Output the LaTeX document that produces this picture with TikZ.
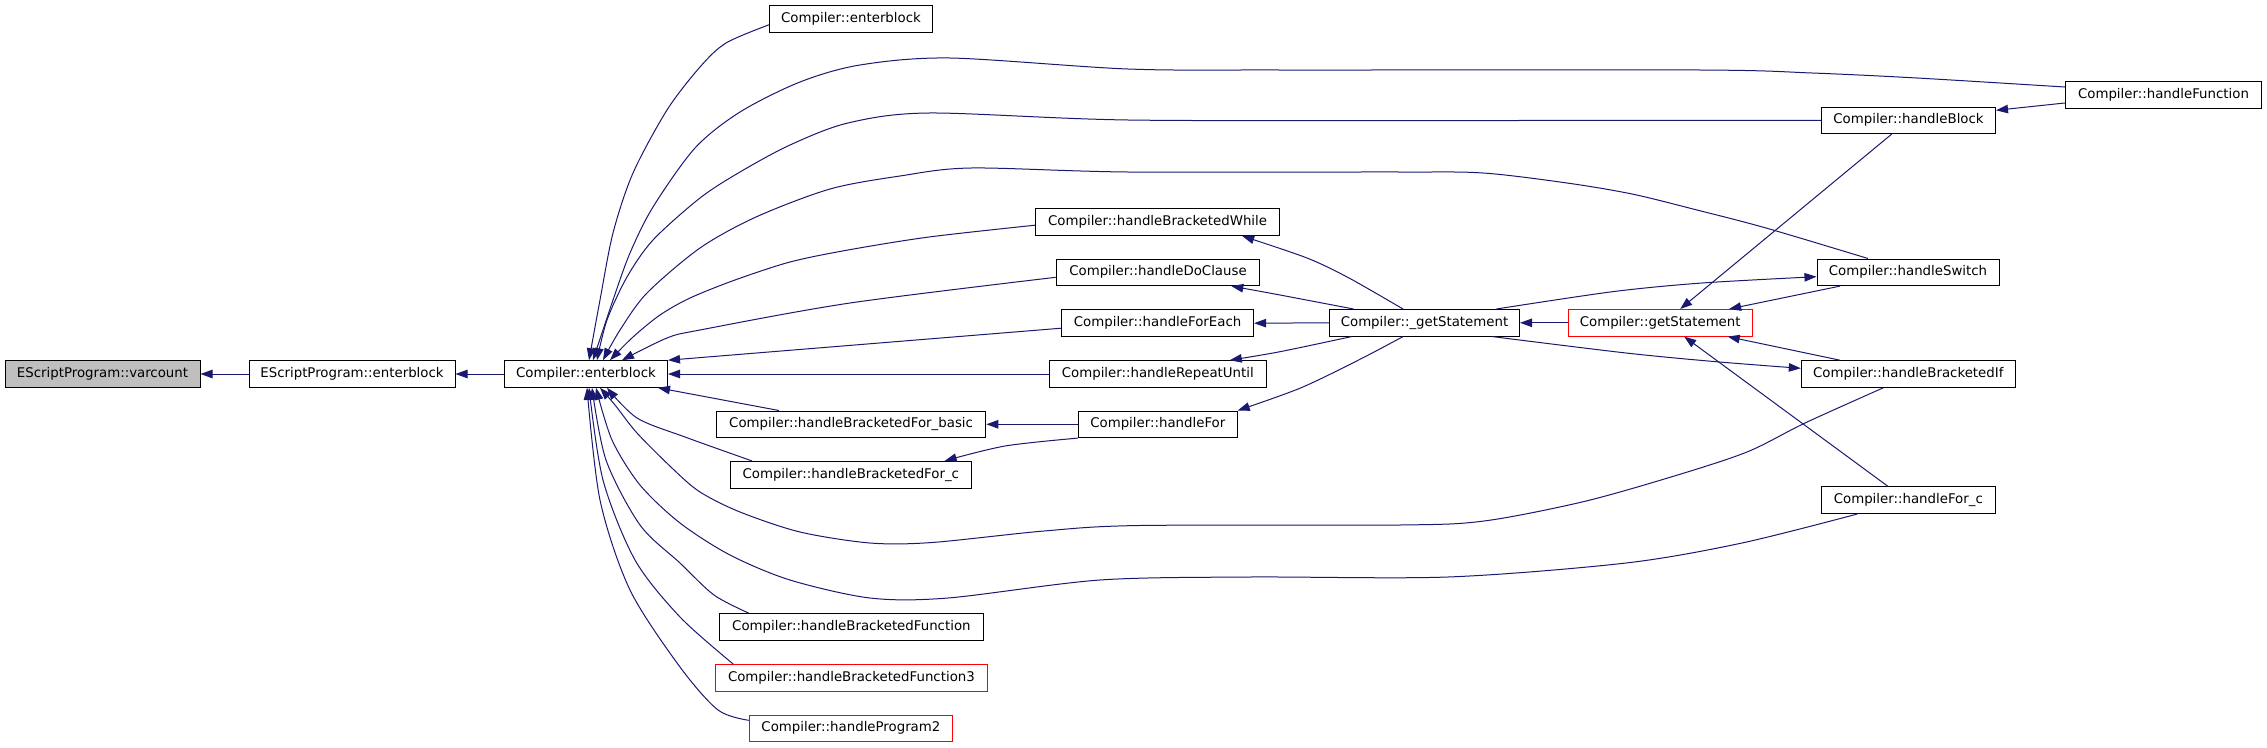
\documentclass[tikz,border=0pt]{standalone}
\usepackage{fontspec}
\setmainfont{DejaVu Sans}
\usetikzlibrary{arrows.meta,calc}
\definecolor{edgeblue}{HTML}{191970}
\definecolor{boxgray}{HTML}{BFBFBF}
\begin{document}
\begin{tikzpicture}[x=1pt,y=-1pt,
  fn/.style={draw=black, line width=1pt, minimum height=26.6pt, inner sep=0pt,
    font=\fontsize{13.33}{16}\selectfont, fill=white},
  fnred/.style={fn, draw=red},
  fncur/.style={fn, fill=boxgray},
  edge/.style={draw=edgeblue, line width=1pt, -{Triangle[length=12pt,width=8.5pt]}},
  sm/.style={smooth, tension=0.5}]
\useasboundingbox[fill=white] (0,0) rectangle (2267,747);

% nodes
\node[fncur, minimum width=195pt]   (vc)   at (102.5,374)   {EScriptProgram::varcount};
\node[fn,    minimum width=206pt]   (espe) at (352,374)     {EScriptProgram::enterblock};
\node[fn,    minimum width=163pt]   (ce)   at (586,374)     {Compiler::enterblock};
\node[fn,    minimum width=163pt]   (ce2)  at (851,18.8)    {Compiler::enterblock};
\node[fn,    minimum width=196.5pt] (hfun) at (2163.5,95)   {Compiler::handleFunction};
\node[fn,    minimum width=174pt]   (hblk) at (1908.5,120.3){Compiler::handleBlock};
\node[fn,    minimum width=244.2pt] (hbw)  at (1157.6,222.2){Compiler::handleBracketedWhile};
\node[fn,    minimum width=203.6pt] (hdo)  at (1158,272.3)  {Compiler::handleDoClause};
\node[fn,    minimum width=192pt]   (hfe)  at (1157.6,323.2){Compiler::handleForEach};
\node[fn,    minimum width=217pt]   (hru)  at (1157.8,374)  {Compiler::handleRepeatUntil};
\node[fn,    minimum width=269.4pt] (hbfb) at (851.1,424.3) {Compiler::handleBracketedFor\_basic};
\node[fn,    minimum width=158.8pt] (hfor) at (1157.8,424.3){Compiler::handleFor};
\node[fn,    minimum width=240.7pt] (hbfc) at (850.8,474.7) {Compiler::handleBracketedFor\_c};
\node[fn,    minimum width=264pt]   (hbf)  at (851.4,627)   {Compiler::handleBracketedFunction};
\node[fnred, minimum width=272.5pt] (hbf3) at (851.4,677.8) {Compiler::handleBracketedFunction3};
\node[fnred, minimum width=203.2pt] (hp2)  at (850.9,728.3) {Compiler::handleProgram2};
\node[fn,    minimum width=190pt]   (ugs)  at (1424.5,322.8){Compiler::\_getStatement};
\node[fnred, minimum width=184pt]   (gs)   at (1660.2,322.8){Compiler::getStatement};
\node[fn,    minimum width=182pt]   (hsw)  at (1908,272.3)  {Compiler::handleSwitch};
\node[fn,    minimum width=214pt]   (hbif) at (1908.3,374)  {Compiler::handleBracketedIf};
\node[fn,    minimum width=174pt]   (hfc)  at (1908.3,500.2){Compiler::handleFor\_c};

% edges on the left
\draw[edge] (espe.west) -- (vc.east);
\draw[edge] (ce.west) -- (espe.east);

\draw[edge] plot[sm] coordinates {($(ce2.west)+(0,6)$) (726,43) (700,67) (667,110) (633,173) (613,233) (600,300) ($(ce.north)+(3,0)$)};
\draw[edge] plot[sm] coordinates {($(hfun.west)+(0,-8)$) (1917,78) (1812,73) (1700,70) (1280,70) (1128,69) (950,58) (860,65) (800,82) (740,112) (695,148) (653,207) (630,253) (613,300) ($(ce.north)+(7,0)$)};
\draw[edge] plot[sm] coordinates {(hblk.west) (1450,120.5) (1128,120) (929,113) (848,123) (790,145) (740,172) (700,198) (653,240) (627,277) (607,320) ($(ce.north)+(11,0)$)};
\draw[edge] plot[sm] coordinates {($(hsw.north)+(-40,0)$) (1766,228) (1697,210) (1632,194) (1567,183) (1483,173) (1400,172) (1128,172) (971,168) (900,176) (830,189) (756,217) (700,248) (647,293) (620,330) ($(ce.north)+(17,0)$)};
\draw[edge] plot[sm] coordinates {($(hbw.west)+(0,3)$) (929,237) (848,250) (790,262) (735,280) (690,298) (660,315) (633,337) ($(ce.north)+(24,0)$)};
\draw[edge] plot[sm] coordinates {($(hdo.west)+(0,5)$) (850,303) (700,330) (667,338) ($(ce.north)+(36,0)$)};
\draw[edge] ($(hfe.west)+(0,5)$) -- (ce.north east);
\draw[edge] (hru.west) -- (ce.east);
\draw[edge] ($(hbfb.north west)+(63,0)$) -- ($(ce.south east)+(-10,0)$);
\draw[edge] plot[sm] coordinates {($(hbfc.north west)+(22,0)$) (685,437) (637,418) ($(ce.south)+(21,0)$)};
\draw[edge] plot[sm] coordinates {($(hbif.south)+(-25,0)$) (1805,423) (1747,452) (1671,477) (1582,502) (1484,521) (1400,525) (1139,525.5) (1044,531) (932,542.5) (870,543) (800,532) (740,512) (700,492) (673,469) (637,433) (615,405) ($(ce.south)+(14,0)$)};
\draw[edge] plot[sm] coordinates {($(hfc.south)+(-51,0)$) (1742,543) (1626,563) (1448,577) (1250,577) (1100,580) (948,598) (870,598) (790,580) (730,555) (680,523) (640,485) (612,440) ($(ce.south)+(10,0)$)};
\draw[edge] plot[sm] coordinates {($(hbf.north west)+(30,0)$) (714,595) (680,563) (640,525) (606,460) ($(ce.south)+(6,0)$)};
\draw[edge] plot[sm] coordinates {($(hbf3.north west)+(18.5,0)$) (680,617) (635,560) (603,480) ($(ce.south)+(3,0)$)};
\draw[edge] plot[sm] coordinates {($(hp2.west)+(0,-8)$) (718,710) (680,667) (630,590) (600,500) ($(ce.south)+(1,0)$)};

% edges on the right
\draw[edge] ($(hfun.west)+(0,8)$) -- ($(hblk.east)+(0,-10)$);
\draw[edge] plot[sm] coordinates {($(ugs.north)+(-21.5,0)$) (1349,278) (1307,258) ($(hbw.south east)+(-38,0)$)};
\draw[edge] plot[sm] coordinates {($(ugs.north west)+(24.5,0)$) (1280,295) ($(hdo.south east)+(-29,0)$)};
\draw[edge] (ugs.west) -- (hfe.east);
\draw[edge] plot[sm] coordinates {($(ugs.south west)+(22.5,0)$) (1280,351.7) ($(hru.north east)+(-37,0)$)};
\draw[edge] plot[sm] coordinates {($(ugs.south)+(-21.5,0)$) (1358.6,360) (1300.5,388) (hfor.north east)};
\draw[edge] (hfor.west) -- (hbfb.east);
\draw[edge] plot[sm] coordinates {(hfor.south west) (1005,446) ($(hbfc.north east)+(-27,0)$)};
\draw[edge] (gs.west) -- (ugs.east);
\draw[edge] ($(hblk.south)+(-16.8,0)$) -- ($(gs.north)+(20,0)$);
\draw[edge] ($(hsw.south)+(-68,0)$) -- ($(gs.north east)+(-23.6,0)$);
\draw[edge] ($(hbif.north)+(-68.3,0)$) -- ($(gs.south east)+(-25,0)$);
\draw[edge] ($(hfc.north)+(-20.3,0)$) -- ($(gs.south)+(24,0)$);
\draw[edge] plot[sm] coordinates {($(ugs.north east)+(-23.6,0)$) (1612.5,291.7) (1702,283) ($(hsw.west)+(0,4.4)$)};
\draw[edge] plot[sm] coordinates {($(ugs.south east)+(-27.6,0)$) (1626,353) (1716,361.7) ($(hbif.west)+(0,-5.7)$)};
\end{tikzpicture}
\end{document}
